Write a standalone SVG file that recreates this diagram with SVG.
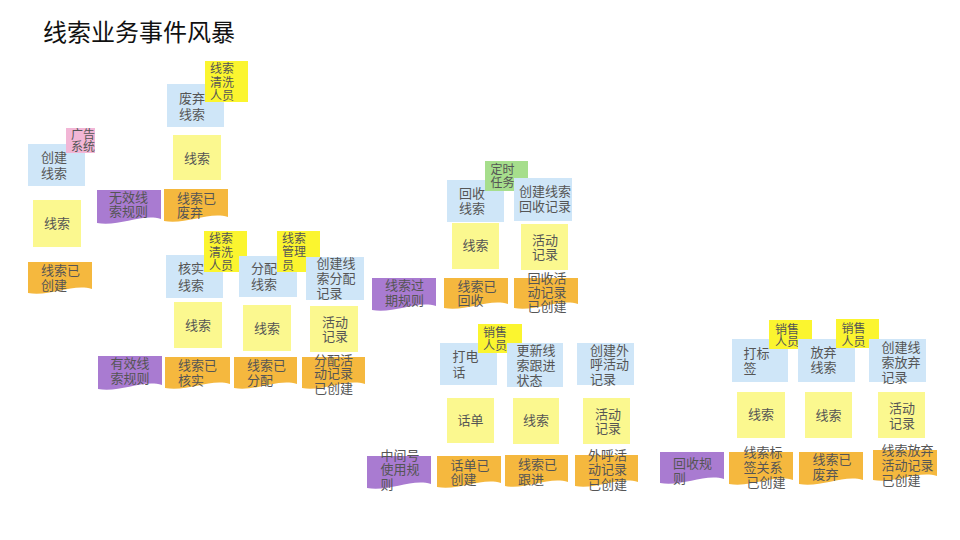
<svg xmlns="http://www.w3.org/2000/svg" width="960" height="540" viewBox="0 0 960 540">
<style>
.b{fill:#cfe6f8}
.y{fill:#fbf88f}
.a{fill:#fbf52f}
.o{fill:#f5b83e}
.p{fill:#a97bd1}
.k{fill:#f2b6d6}
.g{fill:#a6de8c}
text{font-family:"Liberation Sans","Noto Sans CJK SC",sans-serif;fill:#555;font-size:13px}
text.s{font-size:12px}
text.c{text-anchor:middle}
.title{font-size:24px;fill:#111}
</style>
<rect width="960" height="540" fill="#fff"/>
<text class="title" x="43" y="41">线索业务事件风暴</text>

<!-- group 1 -->
<g id="n-create-lead"><rect class="b" x="28" y="144" width="57" height="42"/><text x="41"><tspan x="41" y="162">创建</tspan><tspan x="41" y="177.5">线索</tspan></text></g>
<g id="n-ad-system"><rect class="k" x="66" y="128" width="29" height="25"/><text class="s" x="71"><tspan x="71" y="138.5">广告</tspan><tspan x="71" y="151">系统</tspan></text></g>
<g id="n-lead-1"><rect class="y" x="33" y="200" width="48" height="47"/><text class="c" x="57" y="228">线索</text></g>
<g id="n-lead-created"><path class="o" d="M28,262h64v27c-19,-6 -42,8 -64,4z"/><text x="41"><tspan x="41" y="275">线索已</tspan><tspan x="41" y="290">创建</tspan></text></g>
<g id="n-invalid-rule"><path class="p" d="M97,190h64v29c-19,-6 -42,8 -64,4z"/><text x="109"><tspan x="109" y="201.5">无效线</tspan><tspan x="109" y="216">索规则</tspan></text></g>
<g id="n-discard-lead"><rect class="b" x="167" y="84" width="57" height="43"/><text x="179"><tspan x="179" y="103">废弃</tspan><tspan x="179" y="119">线索</tspan></text></g>
<g id="n-cleaner-1"><rect class="a" x="205" y="61" width="43" height="41"/><text class="s" x="210"><tspan x="210" y="73">线索</tspan><tspan x="210" y="86.5">清洗</tspan><tspan x="210" y="100">人员</tspan></text></g>
<g id="n-lead-2"><rect class="y" x="173" y="135" width="48" height="45"/><text class="c" x="197" y="162.5">线索</text></g>
<g id="n-lead-discarded-1"><path class="o" d="M164,189h64v28c-19,-6 -42,8 -64,4z"/><text x="177"><tspan x="177" y="203">线索已</tspan><tspan x="177" y="216.5">废弃</tspan></text></g>

<!-- group 2 -->
<g id="n-verify-lead"><rect class="b" x="166" y="255" width="57" height="43"/><text x="178"><tspan x="178" y="273">核实</tspan><tspan x="178" y="290">线索</tspan></text></g>
<g id="n-cleaner-2"><rect class="a" x="204" y="231" width="43" height="41"/><text class="s" x="209"><tspan x="209" y="243">线索</tspan><tspan x="209" y="256.5">清洗</tspan><tspan x="209" y="270">人员</tspan></text></g>
<g id="n-assign-lead"><rect class="b" x="239" y="256" width="58" height="41"/><text x="251"><tspan x="251" y="273">分配</tspan><tspan x="251" y="289">线索</tspan></text></g>
<g id="n-lead-admin"><rect class="a" x="277" y="231" width="43" height="41"/><text class="s" x="282"><tspan x="282" y="242.5">线索</tspan><tspan x="282" y="256">管理</tspan><tspan x="282" y="270">员</tspan></text></g>
<g id="n-create-assign-record"><rect class="b" x="306" y="257" width="58" height="43"/><text x="316.5"><tspan x="316.5" y="268">创建线</tspan><tspan x="316.5" y="283">索分配</tspan><tspan x="316.5" y="298">记录</tspan></text></g>
<g id="n-lead-3"><rect class="y" x="174" y="302" width="48" height="46"/><text class="c" x="198" y="330">线索</text></g>
<g id="n-lead-4"><rect class="y" x="243" y="305" width="48" height="46"/><text class="c" x="267" y="332.5">线索</text></g>
<g id="n-activity-1"><rect class="y" x="310" y="306" width="48" height="46"/><text x="322"><tspan x="322" y="326.5">活动</tspan><tspan x="322" y="341">记录</tspan></text></g>
<g id="n-valid-rule"><path class="p" d="M98,356h64v29c-19,-6 -42,8 -64,4z"/><text x="110.5"><tspan x="110.5" y="368">有效线</tspan><tspan x="110.5" y="383">索规则</tspan></text></g>
<g id="n-lead-verified"><path class="o" d="M165,357h65v27c-19,-6 -42,8 -65,4z"/><text x="178"><tspan x="178" y="370">线索已</tspan><tspan x="178" y="385">核实</tspan></text></g>
<g id="n-lead-assigned"><path class="o" d="M234,357h63v27c-19,-6 -42,8 -63,4z"/><text x="247"><tspan x="247" y="370">线索已</tspan><tspan x="247" y="385">分配</tspan></text></g>
<g id="n-assign-record-created"><path class="o" d="M302,357h63v27c-19,-6 -42,8 -63,4z"/><text x="314"><tspan x="314" y="364.5">分配活</tspan><tspan x="314" y="378">动记录</tspan><tspan x="314" y="392.5">已创建</tspan></text></g>

<!-- group 3 -->
<g id="n-recycle-lead"><rect class="b" x="447" y="180" width="57" height="42"/><text x="459"><tspan x="459" y="198">回收</tspan><tspan x="459" y="213">线索</tspan></text></g>
<g id="n-timer"><rect class="g" x="485" y="161" width="43" height="30"/><text class="s" x="490.5"><tspan x="490.5" y="173.5">定时</tspan><tspan x="490.5" y="187">任务</tspan></text></g>
<g id="n-create-recycle-record"><rect class="b" x="514" y="178" width="58" height="43"/><text x="519"><tspan x="519" y="195.5">创建线索</tspan><tspan x="519" y="210.5">回收记录</tspan></text></g>
<g id="n-lead-5"><rect class="y" x="452" y="223" width="47" height="46"/><text class="c" x="475.5" y="250">线索</text></g>
<g id="n-activity-2"><rect class="y" x="521" y="224" width="47" height="46"/><text x="532"><tspan x="532" y="245">活动</tspan><tspan x="532" y="259">记录</tspan></text></g>
<g id="n-expire-rule"><path class="p" d="M372,278h64v28c-19,-6 -42,8 -64,4z"/><text x="385"><tspan x="385" y="290">线索过</tspan><tspan x="385" y="305">期规则</tspan></text></g>
<g id="n-lead-recycled"><path class="o" d="M444,278h64v26c-19,-6 -42,8 -64,4z"/><text x="457.5"><tspan x="457.5" y="290.5">线索已</tspan><tspan x="457.5" y="305">回收</tspan></text></g>
<g id="n-recycle-record-created"><path class="o" d="M514,278h64v26c-19,-6 -42,8 -64,4z"/><text x="527.5"><tspan x="527.5" y="283">回收活</tspan><tspan x="527.5" y="297">动记录</tspan><tspan x="527.5" y="311">已创建</tspan></text></g>

<!-- group 4 -->
<g id="n-call"><rect class="b" x="440" y="343" width="57" height="42"/><text x="452.5"><tspan x="452.5" y="361">打电</tspan><tspan x="452.5" y="376.5">话</tspan></text></g>
<g id="n-sales-1"><rect class="a" x="478" y="324" width="44" height="29"/><text class="s" x="483"><tspan x="483" y="337">销售</tspan><tspan x="483" y="349.5">人员</tspan></text></g>
<g id="n-update-follow"><rect class="b" x="507" y="343" width="56" height="44"/><text x="516.5"><tspan x="516.5" y="355">更新线</tspan><tspan x="516.5" y="370">索跟进</tspan><tspan x="516.5" y="385">状态</tspan></text></g>
<g id="n-create-call-record"><rect class="b" x="577" y="343" width="57" height="42"/><text x="590"><tspan x="590" y="355">创建外</tspan><tspan x="590" y="369">呼活动</tspan><tspan x="590" y="384">记录</tspan></text></g>
<g id="n-call-bill"><rect class="y" x="447" y="398" width="47" height="45"/><text class="c" x="470.5" y="425">话单</text></g>
<g id="n-lead-6"><rect class="y" x="513" y="398" width="46" height="46"/><text class="c" x="536" y="425">线索</text></g>
<g id="n-activity-3"><rect class="y" x="583" y="398" width="47" height="46"/><text x="595"><tspan x="595" y="419">活动</tspan><tspan x="595" y="433">记录</tspan></text></g>
<g id="n-midnum-rule"><path class="p" d="M367,456h64v28c-19,-6 -42,8 -64,4z"/><text x="380.5"><tspan x="380.5" y="460">中间号</tspan><tspan x="380.5" y="474">使用规</tspan><tspan x="380.5" y="489">则</tspan></text></g>
<g id="n-bill-created"><path class="o" d="M437,456h64v27c-19,-6 -42,8 -64,4z"/><text x="450.5"><tspan x="450.5" y="470">话单已</tspan><tspan x="450.5" y="484">创建</tspan></text></g>
<g id="n-lead-followed"><path class="o" d="M505,455h63v27c-19,-6 -42,8 -63,4z"/><text x="518"><tspan x="518" y="469">线索已</tspan><tspan x="518" y="484">跟进</tspan></text></g>
<g id="n-call-record-created"><path class="o" d="M575,455h63v27c-19,-6 -42,8 -63,4z"/><text x="588"><tspan x="588" y="460">外呼活</tspan><tspan x="588" y="474">动记录</tspan><tspan x="588" y="489">已创建</tspan></text></g>

<!-- group 5 -->
<g id="n-tag"><rect class="b" x="732" y="339" width="56" height="43"/><text x="743.5"><tspan x="743.5" y="358">打标</tspan><tspan x="743.5" y="373">签</tspan></text></g>
<g id="n-sales-2"><rect class="a" x="769" y="320" width="43" height="29"/><text class="s" x="775"><tspan x="775" y="333.5">销售</tspan><tspan x="775" y="346">人员</tspan></text></g>
<g id="n-abandon-lead"><rect class="b" x="798" y="339" width="57" height="43"/><text x="810.5"><tspan x="810.5" y="357">放弃</tspan><tspan x="810.5" y="372">线索</tspan></text></g>
<g id="n-sales-3"><rect class="a" x="836" y="319" width="43" height="29"/><text class="s" x="841.5"><tspan x="841.5" y="332.5">销售</tspan><tspan x="841.5" y="345.5">人员</tspan></text></g>
<g id="n-create-abandon-record"><rect class="b" x="869" y="339" width="57" height="43"/><text x="881.5"><tspan x="881.5" y="351.5">创建线</tspan><tspan x="881.5" y="366.5">索放弃</tspan><tspan x="881.5" y="381.5">记录</tspan></text></g>
<g id="n-lead-7"><rect class="y" x="737" y="392" width="48" height="46"/><text class="c" x="761" y="419">线索</text></g>
<g id="n-lead-8"><rect class="y" x="805" y="392" width="47" height="46"/><text class="c" x="828.5" y="420">线索</text></g>
<g id="n-activity-4"><rect class="y" x="878" y="392" width="47" height="46"/><text x="889"><tspan x="889" y="412.5">活动</tspan><tspan x="889" y="428">记录</tspan></text></g>
<g id="n-recycle-rule"><path class="p" d="M660,452h64v27c-19,-6 -42,8 -64,4z"/><text x="673"><tspan x="673" y="468">回收规</tspan><tspan x="673" y="483">则</tspan></text></g>
<g id="n-tag-created"><path class="o" d="M729,452h64v28c-19,-6 -42,8 -64,4z"/><text x="743.5"><tspan x="743.5" y="456.5">线索标</tspan><tspan x="743.5" y="471.5">签关系</tspan><tspan x="746.5" y="486.5">已创建</tspan></text></g>
<g id="n-lead-discarded-2"><path class="o" d="M799,452h64v28c-19,-6 -42,8 -64,4z"/><text x="812.5"><tspan x="812.5" y="464">线索已</tspan><tspan x="812.5" y="479">废弃</tspan></text></g>
<g id="n-abandon-record-created"><path class="o" d="M873,450h64v26c-19,-6 -42,8 -64,4z"/><text x="881.5"><tspan x="881.5" y="455">线索放弃</tspan><tspan x="881.5" y="470">活动记录</tspan><tspan x="881.5" y="485">已创建</tspan></text></g>

<g id="connectors"></g>
</svg>
